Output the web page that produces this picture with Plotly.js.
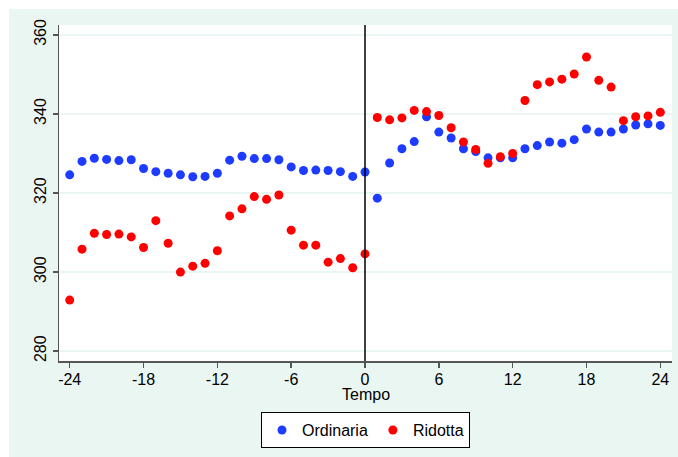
<!DOCTYPE html>
<html>
<head>
<meta charset="utf-8">
<script src="https://cdn.plot.ly/plotly-3.0.1.min.js"></script>
<style>
  html, body { margin: 0; padding: 0; background: #ffffff; }
  #chart { position: absolute; left: 9px; top: 9px; width: 669px; height: 448px; }
</style>
</head>
<body>
<div id="chart"></div>
<script>
// Months relative to the event (Tempo)
const tempo = [-24,-23,-22,-21,-20,-19,-18,-17,-16,-15,-14,-13,-12,-11,-10,-9,-8,-7,-6,-5,-4,-3,-2,-1,0,
               1,2,3,4,5,6,7,8,9,10,11,12,13,14,15,16,17,18,19,20,21,22,23,24];

// Ordinaria series
const ordinaria = [324.6,328.0,328.8,328.5,328.2,328.4,326.2,325.4,325.0,324.6,324.1,324.2,325.0,
                   328.3,329.3,328.7,328.7,328.4,326.6,325.7,325.8,325.7,325.4,324.2,325.3,
                   318.7,327.6,331.2,333.0,339.3,335.4,333.9,331.2,330.5,328.9,328.9,328.9,
                   331.2,332.0,332.9,332.6,333.5,336.2,335.4,335.4,336.2,337.2,337.5,337.1];

// Ridotta series
const ridotta = [292.9,305.8,309.8,309.5,309.6,308.9,306.2,313.0,307.3,300.0,301.5,302.2,305.4,
                 314.2,316.0,319.1,318.4,319.5,310.6,306.8,306.8,302.5,303.4,301.1,304.6,
                 339.1,338.5,339.0,340.9,340.6,339.6,336.5,332.9,331.0,327.5,329.2,330.0,
                 343.4,347.4,348.1,348.8,350.1,354.4,348.5,346.8,338.3,339.3,339.5,340.4];

const xTicks = [-24,-18,-12,-6,0,6,12,18,24];
const yTicks = [280,300,320,340,360];

const font = "Liberation Sans, Arial, sans-serif";

const traces = [
  { x: tempo, y: ordinaria, name: "Ordinaria", type: "scatter", mode: "markers",
    marker: { color: "#1e3cff", size: 9 } },
  { x: tempo, y: ridotta, name: "Ridotta", type: "scatter", mode: "markers",
    marker: { color: "#ff0000", size: 9 } }
];

const layout = {
  width: 669, height: 448,
  margin: { l: 50, r: 6, t: 16, b: 96 },
  paper_bgcolor: "#eaf6f2",
  plot_bgcolor: "#ffffff",
  font: { family: font, size: 16, color: "#000000" },
  showlegend: true,
  legend: {
    orientation: "h", x: 0.5, xanchor: "center", y: -0.152, yanchor: "top",
    bgcolor: "#ffffff", bordercolor: "#000000", borderwidth: 1,
    font: { family: font, size: 16 }, itemwidth: 30
  },
  xaxis: {
    range: [-24.87, 24.95], tickvals: xTicks, ticktext: xTicks.map(String),
    showgrid: false, zeroline: false, automargin: false,
    showline: true, linecolor: "#555555", linewidth: 1.5,
    ticks: "outside", ticklen: 5, tickcolor: "#555555", tickwidth: 1.5,
    ticklabelstandoff: -2,
    tickfont: { family: font, size: 16 }
  },
  yaxis: {
    range: [277.5, 362.5], tickvals: yTicks, ticktext: yTicks.map(String),
    showgrid: true, gridcolor: "#eaf6f2", gridwidth: 1.5,
    zeroline: false, automargin: false,
    showline: true, linecolor: "#555555", linewidth: 1.5,
    ticks: "outside", ticklen: 5, tickcolor: "#555555", tickwidth: 1.5,
    tickangle: -90,
    tickfont: { family: font, size: 16 }
  },
  annotations: [
    // x-axis title
    { text: "Tempo", xref: "paper", yref: "paper", x: 0.5, y: -0.1,
      xanchor: "center", yanchor: "middle", showarrow: false,
      font: { family: font, size: 16 } }
  ],
  shapes: [
    { type: "line", xref: "x", yref: "paper", x0: 0, x1: 0, y0: 0, y1: 1,
      line: { color: "#000000", width: 1.5 } }
  ]
};

Plotly.newPlot("chart", traces, layout, { displayModeBar: false, staticPlot: true });
</script>
</body>
</html>
